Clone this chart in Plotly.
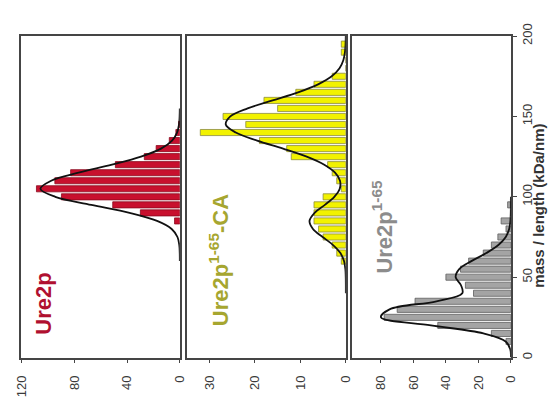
import plotly.graph_objects as go

# ---- histogram data: mass per length bins (kDa/nm) and counts ----
red_mass = [85, 90, 95, 100, 105, 110, 115, 120, 125, 130, 135, 140, 145]
red_count = [4, 30, 51, 90, 109, 95, 83, 49, 27, 18, 8, 3, 1]

yellow_mass = [60, 65, 70, 75, 80, 85, 90, 95, 100, 105, 110, 115, 120, 125,
               130, 135, 140, 145, 150, 155, 160, 165, 170, 175, 180, 185, 190, 195]
yellow_count = [1, 2, 3, 5, 6, 7, 7, 7, 5, 1, 2, 3, 4, 12,
                13, 19, 32, 22, 27, 15, 18, 11, 7, 3, 0, 0, 1, 1]

grey_mass = [10, 15, 20, 25, 30, 35, 40, 45, 50, 55, 60, 65, 70, 75, 80, 85, 90, 95]
grey_count = [3, 12, 45, 78, 70, 59, 23, 28, 40, 31, 26, 17, 12, 8, 3, 6, 0, 2]

# ---- fitted curves, sampled every 5 kDa/nm ----
red_fit_mass = [60, 65, 70, 75, 80, 85, 90, 95, 100, 105, 110, 115, 120, 125,
                130, 135, 140, 145, 150, 155]
red_fit = [0, 0.07, 0.4, 1.8, 6.2, 17.3, 38.2, 67.3, 94.7, 106, 97.8, 77.0, 51.6,
           29.5, 14.3, 5.9, 2.1, 0.6, 0.16, 0.03]

yellow_fit_mass = [40, 45, 50, 55, 60, 65, 70, 75, 80, 85, 90, 95, 100, 105, 110,
                   115, 120, 125, 130, 135, 140, 145, 150, 155, 160, 165, 170, 175,
                   180, 185, 190, 195, 200]
yellow_fit = [0, 0, 0.02, 0.10, 0.40, 1.19, 2.80, 5.10, 7.23, 7.99, 6.88, 4.61, 2.53,
              1.34, 1.28, 2.37, 4.74, 8.6, 13.8, 19.5, 24.2, 26.4, 25.4, 21.6, 16.1,
              10.5, 6.1, 3.1, 1.39, 0.55, 0.19, 0.06, 0.01]

grey_fit_mass = [0, 5, 10, 15, 20, 25, 30, 35, 40, 45, 50, 55, 60, 65, 70, 75, 80,
                 85, 90, 95, 100]
grey_fit = [0.02, 0.34, 3.2, 16.9, 49.2, 80.0, 74.7, 45.8, 29.9, 30.7, 34.0, 31.8,
            24.3, 15.1, 7.7, 3.15, 1.05, 0.29, 0.06, 0.01, 0]

count_ticks = [[0, 40, 80, 120], [0, 10, 20, 30], [0, 20, 40, 60, 80]]
mass_ticks = [0, 50, 100, 150, 200]

panels = [
    dict(mass=red_mass, count=red_count, fit_m=red_fit_mass, fit=red_fit,
         fill="#c8102e", edge="#8a0a1e", rng=[121, 0],
         dom=[15 / 554, 178 / 554], label="<b>Ure2p</b>", lcolor="#b01030",
         lx=39 / 554, ly=1 - 302 / 399),
    dict(mass=yellow_mass, count=yellow_count, fit_m=yellow_fit_mass, fit=yellow_fit,
         fill="#f2f200", edge="#8c8c40", rng=[35, 0],
         dom=[185 / 554, 348 / 554], label="<b>Ure2p<sup>1-65</sup>-CA</b>",
         lcolor="#a6a630", lx=218 / 554, ly=1 - 257 / 399),
    dict(mass=grey_mass, count=grey_count, fit_m=grey_fit_mass, fit=grey_fit,
         fill="#a4a4a4", edge="#5e5e5e", rng=[98, 0],
         dom=[354 / 554, 517 / 554], label="<b>Ure2p<sup>1-65</sup></b>",
         lcolor="#8c8c8c", lx=385 / 554, ly=1 - 222 / 399),
]

fig = go.Figure()
ydom = [1 - 358 / 399, 1 - 24 / 399]
tickfont = dict(family="Liberation Sans, Arial, sans-serif", size=13, color="#3a3a3a")
frame = "#454545"
annotations = []

for i, p in enumerate(panels, start=1):
    xa, ya = f"x{i}", f"y{i}"
    fig.add_trace(go.Bar(
        y=p["mass"], x=p["count"], orientation="h", width=3.8,
        marker=dict(color=p["fill"], line=dict(color=p["edge"], width=0.8)),
        xaxis=xa, yaxis=ya, showlegend=False,
    ))
    fig.add_trace(go.Scatter(
        y=p["fit_m"], x=p["fit"], mode="lines",
        line=dict(color="#111111", width=1.8, shape="spline", smoothing=1.0),
        xaxis=xa, yaxis=ya, showlegend=False,
    ))
    suffix = "" if i == 1 else str(i)
    fig.layout["xaxis" + suffix] = dict(
        domain=p["dom"], anchor=ya, range=p["rng"],
        tickvals=count_ticks[i - 1], ticks="outside", ticklen=4, tickwidth=1,
        tickcolor=frame, tickangle=-90, tickfont=tickfont, ticklabelstandoff=7,
        showline=True, mirror=True, linecolor=frame, linewidth=1.5,
        showgrid=False, zeroline=False, fixedrange=True,
    )
    yax = dict(
        domain=ydom, anchor=xa, range=[0, 200],
        showline=True, mirror=True, linecolor=frame, linewidth=1.5,
        showgrid=False, zeroline=False, fixedrange=True,
    )
    if i == 3:
        yax.update(side="right", tickvals=mass_ticks, ticks="outside", ticklen=4,
                   tickcolor=frame, tickangle=-90, tickfont=tickfont,
                   showticklabels=True)
    else:
        yax.update(showticklabels=False, ticks="")
    fig.layout["yaxis" + suffix] = yax

    annotations.append(dict(
        text=p["label"], x=p["lx"], y=p["ly"], xref="paper", yref="paper",
        xanchor="center", yanchor="middle", textangle=-90, showarrow=False,
        font=dict(family="Liberation Sans, Arial, sans-serif", size=22,
                  color=p["lcolor"]),
    ))

annotations.append(dict(
    text="<b>mass / length (kDa/nm)</b>", x=545 / 554, y=1 - 200 / 399,
    xref="paper", yref="paper", xanchor="center", yanchor="middle",
    textangle=-90, showarrow=False,
    font=dict(family="Liberation Sans, Arial, sans-serif", size=15, color="#333333"),
))

fig.update_layout(
    width=554, height=399,
    margin=dict(l=0, r=0, t=0, b=0),
    paper_bgcolor="white", plot_bgcolor="white",
    annotations=annotations,
    showlegend=False,
)

fig.write_html("out.html")
